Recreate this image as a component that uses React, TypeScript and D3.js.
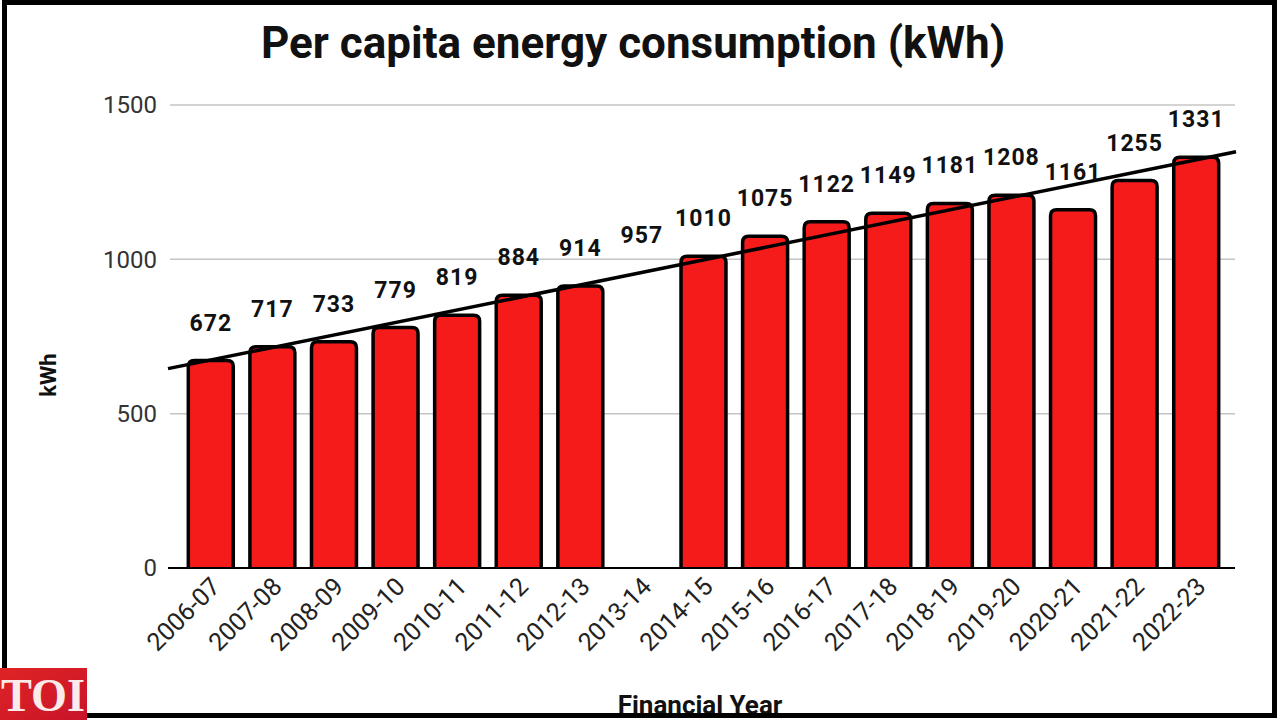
import React from 'react';
import * as d3 from 'd3';

const years = [
  '2006-07', '2007-08', '2008-09', '2009-10', '2010-11', '2011-12', '2012-13', '2013-14', '2014-15',
  '2015-16', '2016-17', '2017-18', '2018-19', '2019-20', '2020-21', '2021-22', '2022-23',
];
const consumption = [672, 717, 733, 779, 819, 884, 914, 957, 1010, 1075, 1122, 1149, 1181, 1208, 1161, 1255, 1331];
// the 2013-14 figure is labelled but no bar is drawn in the source
const missingBars = ['2013-14'];
const yTicks = [0, 500, 1000, 1500];

const W = 1280;
const H = 720;
const plot = { left: 168, right: 1236, top: 105, bottom: 568 };

const font = 'Roboto, "Liberation Sans", Arial, sans-serif';

// rounded top corners only
function barPath(x: number, y: number, w: number, h: number, r: number) {
  return `M${x},${y + h} V${y + r} Q${x},${y} ${x + r},${y} H${x + w - r} Q${x + w},${y} ${x + w},${y + r} V${y + h}`;
}

const App: React.FC = () => {
  const x = d3.scaleBand<string>().domain(years).range([180, 1227]).paddingInner(0.27).paddingOuter(0.135);
  const y = d3.scaleLinear().domain([0, 1500]).range([plot.bottom, plot.top]);

  // least-squares trend over all years
  const idx = consumption.map((_, i) => i);
  const mx = d3.mean(idx)!;
  const my = d3.mean(consumption)!;
  const slope = d3.sum(idx, i => (i - mx) * (consumption[i] - my)) / d3.sum(idx, i => (i - mx) ** 2);
  const step = x.step();
  const center = (i: number) => x(years[0])! + x.bandwidth() / 2 + i * step;
  const idxAt = (px: number) => (px - center(0)) / step;
  const trendAt = (px: number) => my + slope * (idxAt(px) - mx);
  const trend = d3.line<number>().x(d => d).y(d => y(trendAt(d)));

  return (
    <svg width={W} height={H} style={{ position: 'absolute', left: 0, top: 0, background: '#fff' }}>
      <text x={633} y={58} textAnchor="middle" fontFamily={font} fontWeight={700} fontSize={44} fill="#111">
        Per capita energy consumption (kWh)
      </text>

      {yTicks.map(t => (
        <g key={t}>
          {t > 0 && <line x1={170} x2={1235} y1={y(t)} y2={y(t)} stroke="#c4c4c4" strokeWidth={1.5} />}
          <text x={157} y={y(t)} dy="0.35em" textAnchor="end" fontFamily={font} fontSize={24} fill="#333">
            {t}
          </text>
        </g>
      ))}

      {years.map((yr, i) => {
        if (missingBars.includes(yr)) return null;
        const bx = x(yr)!;
        const by = y(consumption[i]);
        return (
          <path
            key={yr}
            d={barPath(bx, by, x.bandwidth(), plot.bottom - by, 6)}
            fill="#f61b1b"
            stroke="#000"
            strokeWidth={3.5}
            strokeLinejoin="round"
          />
        );
      })}

      <line x1={168} x2={1235} y1={plot.bottom} y2={plot.bottom} stroke="#000" strokeWidth={2} />

      <path d={trend([plot.left, plot.right]) || ''} stroke="#000" strokeWidth={3.5} fill="none" />

      {years.map((yr, i) => (
        <text
          key={yr}
          x={x(yr)! + x.bandwidth() / 2}
          y={y(consumption[i]) - 30}
          textAnchor="middle"
          fontFamily={font}
          fontWeight={700}
          fontSize={23}
          letterSpacing={1}
          fill="#111"
        >
          {consumption[i]}
        </text>
      ))}

      {years.map(yr => {
        const cx = x(yr)! + x.bandwidth() / 2 + 11;
        const cy = plot.bottom + 20;
        return (
          <text
            key={yr}
            x={cx}
            y={cy}
            transform={`rotate(-45, ${cx}, ${cy})`}
            textAnchor="end"
            fontFamily={font}
            fontSize={25}
            fill="#222"
          >
            {yr}
          </text>
        );
      })}

      <text
        x={56}
        y={375}
        transform="rotate(-90, 56, 375)"
        textAnchor="middle"
        fontFamily={font}
        fontWeight={700}
        fontSize={22}
        fill="#111"
      >
        kWh
      </text>

      <text x={700} y={714} textAnchor="middle" fontFamily={font} fontWeight={700} fontSize={26} fill="#111">
        Financial Year
      </text>

      <rect x={4.5} y={2.5} width={1270} height={713} fill="none" stroke="#000" strokeWidth={5} />

      <defs>
        <linearGradient id="toi" x1="0" x2="1" y1="0" y2="1">
          <stop offset="0" stopColor="#e02424" />
          <stop offset="1" stopColor="#c8142a" />
        </linearGradient>
      </defs>
      <rect x={0} y={668} width={87} height={52} fill="url(#toi)" />
      <text
        x={43}
        y={711}
        textAnchor="middle"
        fontFamily='"Liberation Serif", "DejaVu Serif", serif'
        fontWeight={700}
        fontSize={46}
        fill="#fbeaea"
        textLength={84}
        lengthAdjust="spacingAndGlyphs"
      >
        TOI
      </text>
    </svg>
  );
};

export default App;
